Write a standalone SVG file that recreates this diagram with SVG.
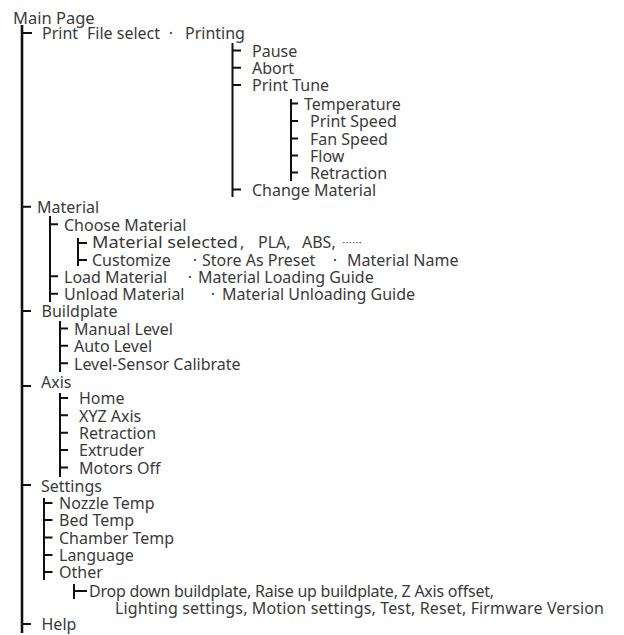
<svg xmlns="http://www.w3.org/2000/svg" width="624" height="635" viewBox="0 0 624 635">
<style>
text{font-family:"Noto Sans","Liberation Sans",sans-serif;font-size:16px;fill:#3a3a3a}
.dot{text-anchor:middle}
.ell{font-family:"Noto Sans CJK SC",sans-serif;font-size:10px}
.ln{stroke:#111;stroke-width:2;fill:none}
.main{stroke-width:2.6}
</style>
<rect width="624" height="635" fill="#fff"/>
<g id="connectors" class="ln">
<path class="ln main" d="M22 25V633"/>
<path d="M22 33H32M22 206.8H31M22 311.1H31M22 386H31M22 484.9H31M22 623.9H31"/>
<path d="M232.5 43V197M232.5 50.4H241M232.5 67.7H241M232.5 85.1H241M232.5 189.4H241"/>
<path d="M291 99V181M291 103.5H298M291 121H298M291 138.5H298M291 155.5H298M291 172.5H298"/>
<path d="M50 216V302M50 224.2H58M50 276.3H58M50 293.7H58"/>
<path d="M78 238V266M78 243H87M78 260H87"/>
<path d="M60 321V372M60 328.4H68M60 345.8H68M60 363.2H68"/>
<path d="M60 393V477M60 398H68M60 415.3H68M60 432.7H68M60 450.1H68M60 467.5H68"/>
<path d="M44 498V580M44 503H52.5M44 520H52.5M44 537.5H52.5M44 555H52.5M44 572H52.5"/>
<path d="M74 584V599M74 591H87"/>
</g>
<g id="main-page"><text x="13" y="23.5" style="font-size:16.5px">Main Page</text></g>
<g id="print"><text x="42" y="39.3">Print</text><text x="87" y="39.3">File select</text><text class="dot" x="171" y="39.3">·</text><text x="185" y="39.3">Printing</text></g>
<g id="pause"><text x="252" y="56.7">Pause</text></g>
<g id="abort"><text x="252" y="74">Abort</text></g>
<g id="print-tune"><text x="252" y="91.4">Print Tune</text></g>
<g id="temperature"><text x="304" y="109.8">Temperature</text></g>
<g id="print-speed"><text x="310" y="127.2">Print Speed</text></g>
<g id="fan-speed"><text x="310" y="144.6">Fan Speed</text></g>
<g id="flow"><text x="310" y="161.9">Flow</text></g>
<g id="retraction-tune"><text x="310" y="179.3">Retraction</text></g>
<g id="change-material"><text x="252" y="195.7">Change Material</text></g>
<g id="material"><text x="37" y="213.1">Material</text></g>
<g id="choose-material"><text x="64" y="230.5">Choose Material</text></g>
<g id="material-selected"><text x="92" y="248.3" textLength="146" lengthAdjust="spacingAndGlyphs">Material selected</text><text x="240" y="248.3">,</text><text x="258" y="248.3">PLA,</text><text x="302" y="248.3">ABS,</text><text class="ell" x="342" y="247">……</text></g>
<g id="customize"><text x="92" y="265.5">Customize</text><text class="dot" x="195" y="265.5">·</text><text x="202" y="265.5">Store As Preset</text><text class="dot" x="335" y="265.5">·</text><text x="347" y="265.5">Material Name</text></g>
<g id="load-material"><text x="64" y="282.6">Load Material</text><text class="dot" x="190" y="282.6">·</text><text x="198" y="282.6">Material Loading Guide</text></g>
<g id="unload-material"><text x="64" y="300">Unload Material</text><text class="dot" x="213" y="300">·</text><text x="222" y="300">Material Unloading Guide</text></g>
<g id="buildplate"><text x="41.5" y="317.4">Buildplate</text></g>
<g id="manual-level"><text x="74" y="334.7">Manual Level</text></g>
<g id="auto-level"><text x="74" y="352.1">Auto Level</text></g>
<g id="level-sensor"><text x="74" y="369.5">Level-Sensor Calibrate</text></g>
<g id="axis"><text x="41" y="387.5">Axis</text></g>
<g id="home"><text x="79" y="404.3">Home</text></g>
<g id="xyz-axis"><text x="79" y="421.6">XYZ Axis</text></g>
<g id="retraction-axis"><text x="79" y="439">Retraction</text></g>
<g id="extruder"><text x="79" y="456.4">Extruder</text></g>
<g id="motors-off"><text x="79" y="473.8">Motors Off</text></g>
<g id="settings"><text x="41" y="491.5">Settings</text></g>
<g id="nozzle-temp"><text x="59" y="508.8">Nozzle Temp</text></g>
<g id="bed-temp"><text x="59" y="526.2">Bed Temp</text></g>
<g id="chamber-temp"><text x="59" y="543.6">Chamber Temp</text></g>
<g id="language"><text x="59" y="561">Language</text></g>
<g id="other"><text x="59" y="578.3">Other</text></g>
<g id="other-items"><text x="89" y="596.5" textLength="405">Drop down buildplate, Raise up buildplate, Z Axis offset,</text><text x="115" y="613.5" textLength="489">Lighting settings, Motion settings, Test, Reset, Firmware Version</text></g>
<g id="help"><text x="41.5" y="630.3">Help</text></g>
</svg>
